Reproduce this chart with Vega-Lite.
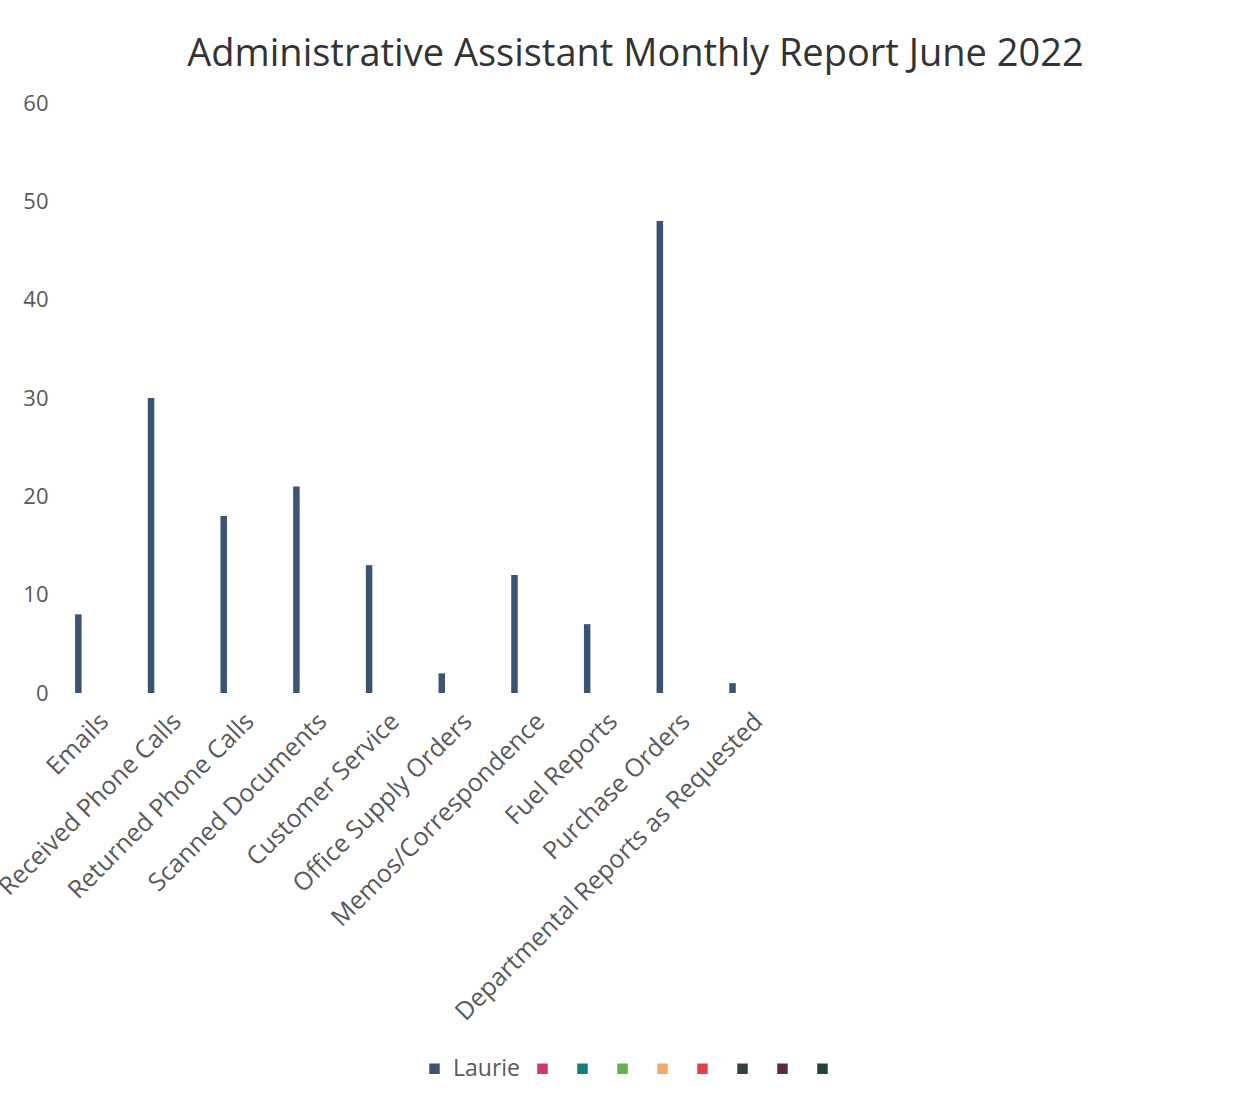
{
  "$schema": "https://vega.github.io/schema/vega-lite/v6.json",
  "autosize": {"type": "none"},
  "padding": {"left": 68, "top": 103, "right": 26, "bottom": 411},
  "width": 1163,
  "height": 590,
  "background": "white",
  "config": {"view": {"stroke": null}, "font": "Open Sans"},
  "title": {
    "text": "Administrative Assistant Monthly Report June 2022",
    "fontSize": 38,
    "font": "Open Sans",
    "fontWeight": "normal",
    "color": "#333333",
    "anchor": "middle",
    "dx": -14,
    "offset": 18
  },
  "data": {
    "values": [
      {"task": "Emails", "series": "Laurie", "count": 8},
      {"task": "Received Phone Calls", "series": "Laurie", "count": 30},
      {"task": "Returned Phone Calls", "series": "Laurie", "count": 18},
      {"task": "Scanned Documents", "series": "Laurie", "count": 21},
      {"task": "Customer Service", "series": "Laurie", "count": 13},
      {"task": "Office Supply Orders", "series": "Laurie", "count": 2},
      {"task": "Memos/Correspondence", "series": "Laurie", "count": 12},
      {"task": "Fuel Reports", "series": "Laurie", "count": 7},
      {"task": "Purchase Orders", "series": "Laurie", "count": 48},
      {"task": "Departmental Reports as Requested", "series": "Laurie", "count": 1}
    ]
  },
  "mark": {"type": "bar"},
  "encoding": {
    "x": {
      "field": "task",
      "type": "nominal",
      "sort": null,
      "scale": {
        "domain": ["Emails", "Received Phone Calls", "Returned Phone Calls", "Scanned Documents", "Customer Service", "Office Supply Orders", "Memos/Correspondence", "Fuel Reports", "Purchase Orders", "Departmental Reports as Requested", "blank1", "blank2", "blank3", "blank4", "blank5", "blank6"],
        "paddingInner": 0.195,
        "paddingOuter": 0.0977
      },
      "axis": {
        "title": null,
        "labelAngle": -45,
        "labelAlign": "right",
        "labelBaseline": "middle",
        "labelFontSize": 25,
        "labelColor": "#595959",
        "labelPadding": 24,
        "labelLimit": 700,
        "labelExpr": "indexof(datum.label, 'blank') == 0 ? '' : datum.label",
        "domain": false,
        "ticks": false,
        "grid": false
      }
    },
    "xOffset": {
      "field": "series",
      "type": "nominal",
      "scale": {
        "domain": ["Laurie", "s2", "s3", "s4", "s5", "s6", "s7", "s8", "s9"],
        "paddingInner": 0,
        "paddingOuter": 0
      }
    },
    "y": {
      "field": "count",
      "type": "quantitative",
      "scale": {"domain": [0, 60], "nice": false},
      "axis": {
        "title": null,
        "values": [0, 10, 20, 30, 40, 50, 60],
        "labelFontSize": 22,
        "labelColor": "#595959",
        "labelPadding": 20,
        "domain": false,
        "ticks": false,
        "grid": false
      }
    },
    "color": {
      "field": "series",
      "type": "nominal",
      "scale": {
        "domain": ["Laurie", "s2", "s3", "s4", "s5", "s6", "s7", "s8", "s9"],
        "range": ["#3c5371", "#d0386a", "#127f72", "#66b04a", "#f6a96a", "#e4404a", "#374040", "#5b2d3c", "#23423a"]
      },
      "legend": {
        "title": null,
        "orient": "none",
        "direction": "horizontal",
        "columns": 9,
        "legendX": 355,
        "legendY": 954,
        "symbolType": "square",
        "symbolSize": 110,
        "symbolStrokeWidth": 0,
        "labelFontSize": 23,
        "labelColor": "#595959",
        "labelOffset": 7,
        "columnPadding": 10,
        "labelExpr": "datum.label == 'Laurie' ? 'Laurie' : ''"
      }
    }
  }
}
